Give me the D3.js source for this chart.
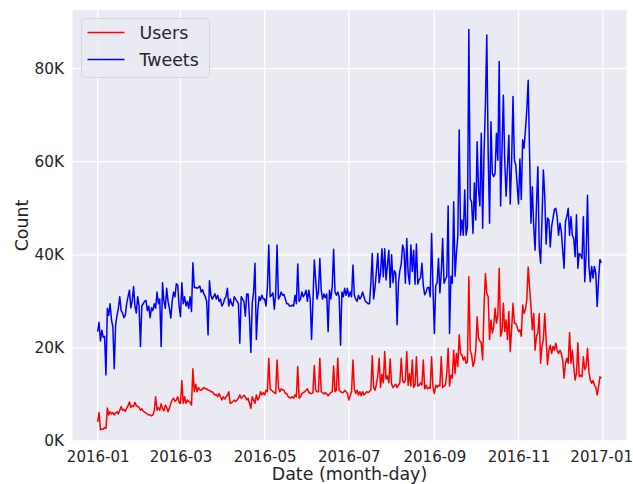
<!DOCTYPE html>
<html>
<head>
<meta charset="utf-8">
<script src="https://cdn.jsdelivr.net/npm/d3@7/dist/d3.min.js"></script>
<style>
  html, body { margin: 0; padding: 0; background: #ffffff; }
  svg { display: block; font-family: "DejaVu Sans", sans-serif; }
</style>
</head>
<body>
<svg id="chart" width="633" height="484"></svg>
<script>
// ---- Data (daily counts, in thousands) ----
const startDate = "2016-01-01";
const seriesNames = ["Users", "Tweets"];
const seriesColors = ["#ff0000", "#0000ff"];
const xTickLabels = ["2016-01", "2016-03", "2016-05", "2016-07", "2016-09", "2016-11", "2017-01"];
const yTickValues = [0, 20, 40, 60, 80];

const tweetsJan = [23.5, 25.5, 21.5, 23.8, 22.3, 22.5, 14.2, 28.5, 27, 29.5, 26, 24.5, 15.5, 25, 27, 28.5, 31, 28, 27.5, 26.5, 27, 29.5, 31, 32.4, 28.6, 30, 33.2, 29, 27.5, 31, 29];
const tweetsFeb = [20.3, 29, 29.5, 30, 30.2, 28, 29, 26.5, 28.6, 28, 29.5, 28.5, 32, 29.5, 30.5, 20.3, 34, 30, 28.5, 32.8, 30, 28.5, 26.4, 30, 32, 31, 33.8, 33.5, 29];
const tweetsMar = [26.7, 34, 29.5, 31, 29, 30, 28.5, 31, 27.8, 38.3, 33, 33, 32.8, 33, 33.3, 32, 32.5, 31.6, 31, 30, 22.8, 34.4, 31.3, 30.5, 31, 31.6, 30.5, 31.3, 30, 30.5, 29];
const tweetsApr = [29.5, 30.5, 31, 32.8, 29, 30.5, 29.5, 29, 31, 30.5, 30, 29.5, 21, 31, 30.5, 30, 26.8, 31.6, 31.6, 26.6, 19, 29.5, 32, 38.2, 21.8, 28, 31, 30.2, 31.3, 30.5];
const tweetsMay = [30.5, 29, 33, 42.1, 31, 31.3, 31.8, 28.3, 31.5, 42.1, 30.5, 31, 32, 31.3, 31.5, 30.5, 29.5, 29.5, 29, 29, 29.2, 29, 31.3, 29.5, 38, 30, 30.5, 32, 31, 31.5, 32.4];
const tweetsJun = [30, 32.4, 30.5, 21.8, 30, 38.9, 34.6, 30.5, 32, 39.2, 32.4, 30.5, 31.6, 30.8, 31.6, 23.5, 32.4, 30.5, 33.3, 41.2, 32, 31.3, 32, 31, 20.6, 32, 31, 32.8, 31.3, 32.8];
const tweetsJul = [31, 32, 31, 37.8, 31.3, 30.5, 30, 31.3, 30.5, 31, 32, 31, 30, 29.8, 29.5, 29.5, 34, 40.3, 30.5, 33, 36.5, 40.3, 34, 36, 41.3, 35.3, 41.3, 34.6, 37.8, 41, 33];
const tweetsAug = [40, 34, 36.6, 36, 25, 34, 36.6, 38, 42.1, 41, 33.9, 43.5, 36, 33.7, 42.1, 36.4, 41, 33.7, 42.3, 33.7, 34.7, 35, 38.2, 33.4, 31.4, 32, 33, 33, 31, 44.6, 33];
const tweetsSep = [23.1, 33.4, 34, 39.2, 31.8, 36, 43.5, 33.9, 34.7, 35.4, 50.5, 23.1, 35.4, 33.9, 51.4, 35.4, 40.3, 44, 66.8, 44.2, 47.5, 44.2, 53.9, 44.2, 46, 88.4, 52, 51.4, 44.6, 55.4];
const tweetsOct = [47.5, 64.3, 53.9, 50.5, 66.1, 45.7, 61.8, 72, 87.2, 62, 46.8, 68.6, 57.5, 56.8, 57.5, 66.1, 60.3, 81.5, 50.5, 62.2, 74.3, 60.3, 52.6, 58.9, 65.7, 50.9, 60, 74, 60.3, 59.3, 55];
const tweetsNov = [50.9, 60.6, 51.9, 64.7, 62.9, 66.8, 71.1, 77.5, 61.8, 46.8, 54.6, 46.1, 41, 50.5, 58.9, 41.7, 38.2, 47.5, 58.2, 52.6, 42.3, 47.9, 47.5, 41.7, 46.1, 47.9, 49.7, 50, 48.2, 44.2];
const tweetsDec = [46.8, 45, 41, 37.1, 47.1, 48.2, 50, 44.2, 48.2, 44.2, 43.5, 39.6, 48.6, 37.1, 40.3, 40, 39.2, 48.2, 34.2, 40, 52.8, 37.5, 34.2, 37.5, 35, 37.5, 36, 28.9, 34.6, 39, 38.3];

const usersJan = [4.1, 6.1, 2.4, 2.6, 2.5, 2.9, 2.7, 7.1, 5.6, 6.3, 5.8, 6.1, 5.6, 6, 6.3, 5.8, 6.6, 7.4, 6.6, 6.8, 6.4, 7, 7.6, 8.4, 7.2, 7.6, 7.4, 8.3, 7.6, 7.4, 7.2];
const usersFeb = [6.6, 6.9, 6.4, 6.2, 6, 5.8, 5.6, 5.6, 5.4, 5.6, 6.5, 9.5, 6.6, 7.2, 6.6, 8, 7, 6.5, 7.7, 7.2, 6.3, 7, 8.1, 8.8, 9.2, 8.5, 8.8, 9.5, 8.3];
const usersMar = [8.1, 13, 8.1, 9.5, 8.1, 8.8, 8.5, 8.3, 7.7, 15.5, 10.6, 12.2, 10.6, 11.5, 11, 10.9, 11.2, 11.5, 11.2, 11.2, 10.9, 10.9, 10.6, 10.6, 10.2, 9.9, 10, 9.5, 10.2, 9.5, 8.8];
const usersApr = [9.5, 9, 9.5, 9.8, 10.6, 8.1, 8.2, 8.5, 8.8, 8.5, 8.8, 9.2, 9.9, 9.2, 9.5, 9.8, 9.5, 8.8, 9.2, 8.1, 7, 9.5, 8.8, 8.1, 9.9, 8.8, 9.3, 10.6, 9.9, 10.4];
const usersMay = [9.9, 10.9, 10.6, 17.8, 11.2, 10.9, 10.6, 10.4, 10.2, 17.4, 11.5, 10.6, 11.2, 11, 10.9, 10.2, 10.2, 9.5, 9.4, 9.2, 9.5, 9.2, 9.9, 9.5, 16, 9.2, 9.5, 10.2, 10.4, 10.6, 10.9];
const usersJun = [11.2, 10.5, 10.2, 10.2, 10.4, 16.2, 10.9, 10.6, 10.6, 17.8, 10.6, 10.4, 10.1, 10.4, 10.1, 9.7, 10.1, 10.4, 10.6, 16.1, 10.6, 10.9, 17.8, 10.9, 10.6, 10.4, 10.4, 10.9, 10.6, 10.2];
const usersJul = [8.8, 9.7, 10.6, 17.4, 11.2, 10.2, 10.9, 9.9, 10.6, 9.7, 10.6, 9.9, 10.2, 10.6, 10.4, 10.6, 11, 18.3, 11.5, 10.9, 12.2, 14, 17.8, 11.5, 14.3, 12.5, 19.2, 13.3, 14, 12.5, 17.6];
const usersAug = [12.2, 11.5, 11.8, 12.2, 11.5, 12, 12.5, 17.8, 12.9, 12.5, 13.1, 19.2, 12, 14.5, 11.8, 17.4, 11.5, 12, 18.1, 11.8, 12, 12.5, 12, 17.4, 11.2, 12, 11.2, 11.5, 11.3, 18.1, 11.5];
const usersSep = [10.2, 12, 11.5, 12, 11.8, 18.1, 11.5, 11.8, 12, 14.5, 19.9, 11.8, 14.1, 13.5, 19.5, 14.5, 18.8, 16, 22.8, 18.8, 18.5, 17.4, 18.1, 16.7, 17, 35.3, 19.5, 18.5, 16, 17];
const usersOct = [19.5, 26.7, 22.1, 21.5, 21, 17.4, 28.9, 36, 31.7, 31, 21.8, 26, 23.2, 24.6, 28.5, 25.3, 27, 37.1, 22.5, 23.5, 29.6, 23.5, 26, 21.8, 27.8, 19.2, 24, 29.6, 25.3, 25.3, 24.5];
const usersNov = [23.5, 23.9, 22.5, 29.2, 27.4, 28.2, 30.3, 37.4, 33.1, 28.9, 23.9, 27.4, 19.5, 22.5, 23.2, 27.4, 16.7, 20.3, 21.8, 27.4, 21.8, 16.4, 19.5, 20.6, 18.8, 20.3, 19.5, 21, 19.5, 18.8];
const usersDec = [19.5, 18.8, 17.4, 13.5, 16.7, 17.8, 16.7, 23.3, 16.7, 19.5, 16, 13.1, 14.5, 21.1, 13.8, 14.1, 13.8, 18.1, 15.3, 16, 19.9, 14.9, 13.1, 12.4, 13, 12, 11.5, 9.9, 11.7, 13.8, 13.5];

const tweets = [].concat(tweetsJan, tweetsFeb, tweetsMar, tweetsApr, tweetsMay, tweetsJun,
                         tweetsJul, tweetsAug, tweetsSep, tweetsOct, tweetsNov, tweetsDec);
const users = [].concat(usersJan, usersFeb, usersMar, usersApr, usersMay, usersJun,
                        usersJul, usersAug, usersSep, usersOct, usersNov, usersDec);

// ---- Layout ----
const W = 633, H = 484;
const plot = { left: 72.5, right: 626.5, top: 10, bottom: 441 };
const svg = d3.select("#chart");

const parse = d3.utcParse("%Y-%m-%d");
const t0 = parse(startDate);
const dates = tweets.map((_, i) => d3.utcDay.offset(t0, i));
const firstDate = dates[0], lastDate = dates[dates.length - 1];
const pad = (lastDate - firstDate) * 0.05;

const x = d3.scaleUtc()
  .domain([new Date(+firstDate - pad), new Date(+lastDate + pad)])
  .range([plot.left, plot.right]);
const y = d3.scaleLinear()
  .domain([0, 92.59])
  .range([plot.bottom, plot.top]);

const parseTick = d3.utcParse("%Y-%m");
const xTicks = xTickLabels.map(s => parseTick(s));

// background
svg.append("rect")
  .attr("x", plot.left).attr("y", plot.top)
  .attr("width", plot.right - plot.left).attr("height", plot.bottom - plot.top)
  .attr("fill", "#EAEAF2");

// grid
const grid = svg.append("g");
grid.selectAll("line.v").data(xTicks).join("line")
  .attr("x1", d => x(d)).attr("x2", d => x(d))
  .attr("y1", plot.top).attr("y2", plot.bottom)
  .attr("stroke", "#ffffff").attr("stroke-width", 1.3);
grid.selectAll("line.h").data(yTickValues).join("line")
  .attr("x1", plot.left).attr("x2", plot.right)
  .attr("y1", d => y(d)).attr("y2", d => y(d))
  .attr("stroke", "#ffffff").attr("stroke-width", 1.3);

// axes (tick labels only, seaborn darkgrid style)
const xAxis = d3.axisBottom(x).tickValues(xTicks).tickFormat(d3.utcFormat("%Y-%m")).tickSize(0).tickPadding(10);
const gx = svg.append("g").attr("transform", `translate(0,${plot.bottom})`).call(xAxis);
gx.select(".domain").remove();
gx.selectAll("text").attr("fill", "#262626").style("font-size", "15px").style("font-family", "DejaVu Sans");
gx.selectAll(".tick:last-of-type text").attr("dx", "-1.5");

const yAxis = d3.axisLeft(y).tickValues(yTickValues).tickFormat(d => d + "K").tickSize(0).tickPadding(8.5);
const gy = svg.append("g").attr("transform", `translate(${plot.left},0)`).call(yAxis);
gy.select(".domain").remove();
gy.selectAll("text").attr("fill", "#262626").style("font-size", "15.3px").style("font-family", "DejaVu Sans");

// axis titles
svg.append("text")
  .attr("x", (plot.left + plot.right) / 2).attr("y", 480)
  .attr("text-anchor", "middle").attr("fill", "#262626")
  .style("font-size", "17.4px").text("Date (month-day)");
svg.append("text")
  .attr("transform", `translate(28,${(plot.top + plot.bottom) / 2}) rotate(-90)`)
  .attr("text-anchor", "middle").attr("fill", "#262626")
  .style("font-size", "17.4px").text("Count");

// lines
const line = d3.line().x((d, i) => x(dates[i])).y(d => y(d));
const seriesData = [users, tweets];
svg.append("g").selectAll("path").data(seriesData).join("path")
  .attr("d", d => line(d))
  .attr("fill", "none")
  .attr("stroke", (d, i) => seriesColors[i])
  .attr("stroke-width", 1.5)
  .attr("stroke-linejoin", "round");

// legend
const lg = svg.append("g");
lg.append("rect")
  .attr("x", 81.5).attr("y", 18.5).attr("width", 128).attr("height", 59)
  .attr("rx", 3.5).attr("ry", 3.5)
  .attr("fill", "#EAEAF2").attr("fill-opacity", 0.8)
  .attr("stroke", "#d6d6de").attr("stroke-width", 1);
const items = lg.selectAll("g.item").data(seriesNames).join("g")
  .attr("transform", (d, i) => `translate(0,${32.5 + i * 27})`);
items.append("line")
  .attr("x1", 87.5).attr("x2", 124.5).attr("y1", 0).attr("y2", 0)
  .attr("stroke", (d, i) => seriesColors[i]).attr("stroke-width", 1.6);
items.append("text")
  .attr("x", 139.5).attr("y", 0).attr("dy", "0.36em")
  .attr("fill", "#262626").style("font-size", "17.4px")
  .text(d => d);
</script>
</body>
</html>
